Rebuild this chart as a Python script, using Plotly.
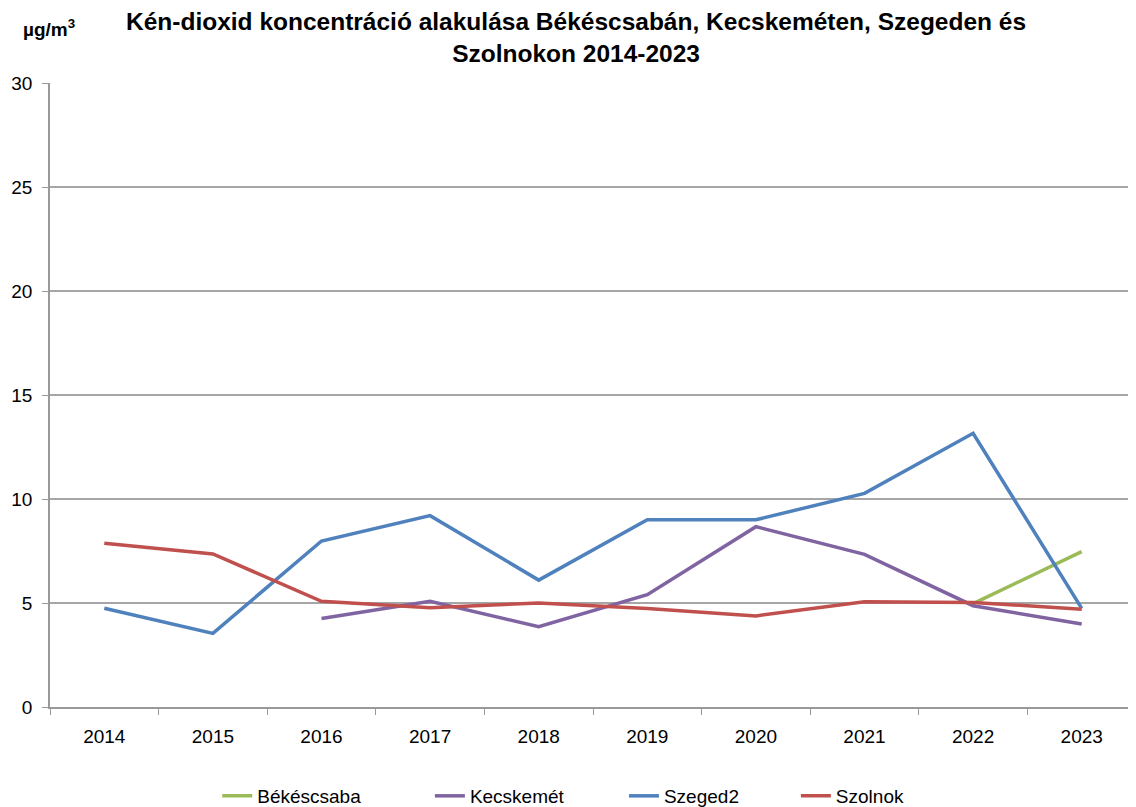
import plotly.graph_objects as go

years = ["2014", "2015", "2016", "2017", "2018", "2019", "2020", "2021", "2022", "2023"]
bekescsaba = [None, None, None, None, None, None, None, None, 4.97, 7.47]
kecskemet = [None, None, 4.25, 5.08, 3.86, 5.4, 8.67, 7.34, 4.87, 3.99]
szeged2 = [4.75, 3.54, 7.98, 9.2, 6.1, 9.0, 9.0, 10.27, 13.16, 4.74]
szolnok = [7.87, 7.36, 5.08, 4.77, 5.0, 4.73, 4.38, 5.06, 5.03, 4.7]

series_names = ["Békéscsaba", "Kecskemét", "Szeged2", "Szolnok"]
series_values = [bekescsaba, kecskemet, szeged2, szolnok]
series_colors = ["#9BBB59", "#8064A2", "#4F81BD", "#C0504D"]
legend_ids = ["legend", "legend2", "legend3", "legend4"]
legend_x = [0.1540, 0.3498, 0.5285, 0.6868]

font = "Liberation Sans, Arial, sans-serif"

fig = go.Figure()
for name, vals, col, lid in zip(series_names, series_values, series_colors, legend_ids):
    fig.add_trace(go.Scatter(x=years, y=vals, name=name, mode="lines",
                             line=dict(color=col, width=3.5), connectgaps=False,
                             legend=lid))

legend_common = dict(orientation="h", yanchor="middle", y=-0.1426, xanchor="left",
                     font=dict(size=19, family=font), bgcolor="rgba(0,0,0,0)")
layout_legends = {}
for lid, lx in zip(legend_ids, legend_x):
    layout_legends[lid] = dict(legend_common, x=lx)

fig.update_layout(
    width=1128, height=807,
    margin=dict(l=42, r=0, t=75, b=108),
    paper_bgcolor="white", plot_bgcolor="white",
    font=dict(family=font, size=19, color="black"),
    showlegend=True,
    xaxis=dict(type="category", range=[-0.5, 9.5], tickson="boundaries",
               ticks="outside", ticklen=6, tickcolor="#999999", ticklabelstandoff=11,
               showline=True, linecolor="#999999", linewidth=1.5, automargin=False,
               showgrid=False, tickfont=dict(size=19)),
    yaxis=dict(range=[0, 30], dtick=5, ticks="outside", ticklen=6, tickcolor="#999999",
               ticklabelstandoff=6, automargin=False,
               showline=True, linecolor="#999999", linewidth=1.5,
               showgrid=True, gridcolor="#A6A6A6", gridwidth=1.5,
               zeroline=False, tickfont=dict(size=19)),
    annotations=[
        dict(text="<b>Kén-dioxid koncentráció alakulása Békéscsabán, Kecskeméten, Szegeden és<br>Szolnokon 2014-2023</b>",
             xref="paper", yref="paper", x=0.4843, y=1.0737, xanchor="center", yanchor="middle",
             showarrow=False, font=dict(size=24.5, family=font)),
        dict(text="<b>µg/m<sup>3</sup></b>", xref="paper", yref="paper",
             x=-0.0265, y=1.088, xanchor="left", yanchor="middle",
             showarrow=False, font=dict(size=19, family=font)),
    ],
    **layout_legends,
)

fig.write_html("out.html")
